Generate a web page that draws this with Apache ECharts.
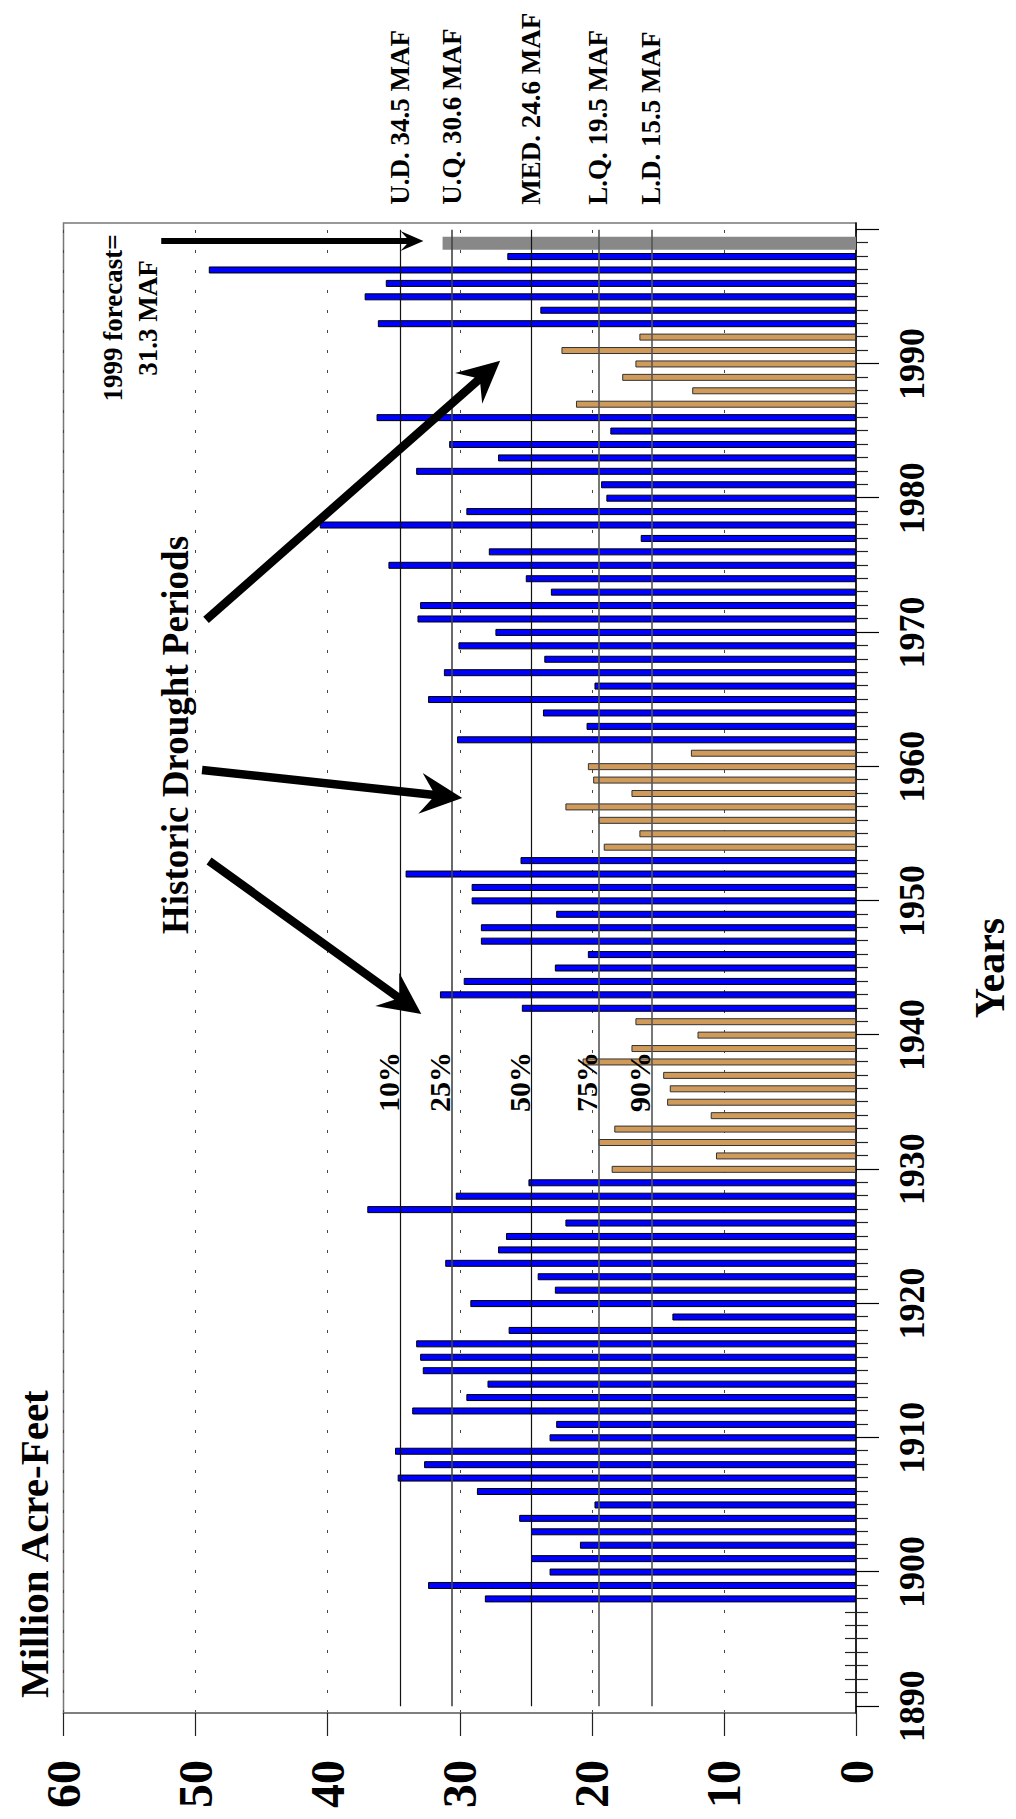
<!DOCTYPE html>
<html>
<head>
<meta charset="utf-8">
<script src="https://cdn.jsdelivr.net/npm/echarts@6/dist/echarts.min.js"></script>
<style>
html, body { margin: 0; padding: 0; background: #fff; width: 1016px; height: 1819px; overflow: hidden; }
#chart { position: absolute; left: 0; top: 0; width: 1819px; height: 1016px;
         transform-origin: 0 0; transform: translateY(1819px) rotate(-90deg); }
</style>
</head>
<body>
<div id="chart"></div>
<script>
// ---------------- data ----------------
const firstYear = 1890, lastYear = 2000;
const years = [];
for (let y = firstYear; y <= lastYear; y++) years.push(String(y));

const firstDataYear = 1898;
const flows = [
  28.1, 32.4,                                                  // 1898-1899
  23.2, 24.6, 20.9, 24.6, 25.5, 19.8, 28.7, 34.7, 32.7, 34.9,  // 1900-1909
  23.2, 22.7, 33.6, 29.5, 27.9, 32.8, 33.0, 33.3, 26.3, 13.9,  // 1910-1919
  29.2, 22.8, 24.1, 31.1, 27.1, 26.5, 22.0, 37.0, 30.3, 24.8,  // 1920-1929
  18.5, 10.6, 19.5, 18.3, 11.0, 14.3, 14.1, 14.6, 20.7, 17.0,  // 1930-1939
  12.0, 16.7, 25.3, 31.5, 29.7, 22.8, 20.3, 28.4, 28.4, 22.7,  // 1940-1949
  29.1, 29.1, 34.1, 25.4, 19.1, 16.4, 19.5, 22.0, 17.0, 19.9,  // 1950-1959
  20.3, 12.5, 30.2, 20.4, 23.7, 32.4, 19.8, 31.2, 23.6, 30.1,  // 1960-1969
  27.3, 33.2, 33.0, 23.1, 25.0, 35.4, 27.8, 16.3, 40.6, 29.5,  // 1970-1979
  18.9, 19.3, 33.3, 27.1, 30.8, 18.6, 36.3, 21.2, 12.4, 17.7,  // 1980-1989
  16.7, 22.3, 16.4, 36.2, 23.9, 37.2, 35.6, 49.0, 26.4         // 1990-1998
];
const droughtPeriods = [[1930, 1941], [1954, 1961], [1987, 1992]];
const forecastYear = 1999;
const forecastValue = 31.3;

const lineValues = [34.5, 30.6, 24.6, 19.5, 15.5];
const lineLabels = ['U.D. 34.5 MAF', 'U.Q. 30.6 MAF', 'MED. 24.6 MAF', 'L.Q. 19.5 MAF', 'L.D. 15.5 MAF'];
const pctLabels = ['10%', '25%', '50%', '75%', '90%'];
const pctLabelYear = 1936.5;

// annotation arrows: [startYear, startValue, tipYear, tipValue]
const droughtArrows = [
  [1970.93, 49.21, 1990.24, 26.94],
  [1959.75, 49.51, 1957.67, 29.81],
  [1952.97, 48.98, 1941.57, 32.91]
];
const forecastArrow = [[1999.16, 52.6, 1999.16, 32.75]];
const droughtTitle = { text: 'Historic Drought Periods', year: 1962.36, value: 51.55 };
const forecastNote = { text: '1999 forecast=\n31.3 MAF', year: 1993.43, value: 54.94 };

// ---------------- build ----------------
const serif = '"Liberation Serif", "Times New Roman", serif';
const isDrought = yr => droughtPeriods.some(p => yr >= p[0] && yr <= p[1]);
const flowOf = yr => {
  const i = yr - firstDataYear;
  return (i >= 0 && i < flows.length) ? flows[i] : null;
};
const normalData = years.map(y => { const v = flowOf(+y); return (v === null || isDrought(+y)) ? '-' : v; });
const droughtData = years.map(y => { const v = flowOf(+y); return (v === null || !isDrought(+y)) ? '-' : v; });
const forecastData = years.map(y => (+y === forecastYear ? forecastValue : '-'));

const lineColors = ['#111', '#444', '#111', '#555', '#555'];
const lineWidths = [1.2, 1.6, 1.2, 1.6, 1.6];

function arrowRenderer(headLen, headHalf, shaftW) {
  return function (params, api) {
    const s = api.coord([api.value(0), api.value(1)]);
    const t = api.coord([api.value(2), api.value(3)]);
    const dx = t[0] - s[0], dy = t[1] - s[1];
    const len = Math.hypot(dx, dy);
    const ux = dx / len, uy = dy / len, nx = -uy, ny = ux;
    const nk = [t[0] - ux * headLen * 0.72, t[1] - uy * headLen * 0.72];
    const base = [t[0] - ux * headLen, t[1] - uy * headLen];
    const h = shaftW / 2;
    const pts = [
      [s[0] + nx * h, s[1] + ny * h],
      [nk[0] + nx * h, nk[1] + ny * h],
      [base[0] + nx * headHalf, base[1] + ny * headHalf],
      [t[0], t[1]],
      [base[0] - nx * headHalf, base[1] - ny * headHalf],
      [nk[0] - nx * h, nk[1] - ny * h],
      [s[0] - nx * h, s[1] - ny * h]
    ];
    return { type: 'polygon', shape: { points: pts }, style: { fill: '#000' } };
  };
}

const isDecade = (i, v) => Number(v) % 10 === 0;
const boldText = (size) => ({ fontFamily: serif, fontWeight: 'bold', fontSize: size, color: '#000' });

const chart = echarts.init(document.getElementById('chart'), null, { renderer: 'svg', width: 1819, height: 1016 });

const option = {
  animation: false,
  backgroundColor: '#fff',
  textStyle: { fontFamily: serif },
  title: {
    text: 'Million Acre-Feet', left: 116, top: 8,
    textStyle: boldText(41)
  },
  grid: { left: 106, right: 223, top: 63.5, bottom: 158, show: true, borderColor: '#777', borderWidth: 1.5 },
  xAxis: [
    {
      type: 'category', data: years, position: 'bottom', boundaryGap: true,
      axisLine: { show: true, lineStyle: { color: '#000', width: 1.5 } },
      axisTick: { show: true, alignWithLabel: true, length: 12, interval: (i, v) => !isDecade(i, v), lineStyle: { color: '#222', width: 1.2 } },
      axisLabel: { show: true, interval: (i, v) => Number(v) % 10 === 0 && Number(v) < 2000, margin: 38, ...boldText(36) },
      splitLine: { show: false },
      name: 'Years', nameLocation: 'middle', nameGap: 113, nameTextStyle: boldText(42)
    },
    {
      type: 'category', data: years, position: 'bottom', boundaryGap: true,
      axisLine: { show: false },
      axisTick: { show: true, alignWithLabel: true, inside: true, length: 11, interval: (i, v) => !isDecade(i, v), lineStyle: { color: '#222', width: 1.2 } },
      axisLabel: { show: false }, splitLine: { show: false }
    },
    {
      type: 'category', data: years, position: 'bottom', boundaryGap: true,
      axisLine: { show: false },
      axisTick: { show: true, alignWithLabel: true, length: 23, interval: isDecade, lineStyle: { color: '#000', width: 1.2 } },
      axisLabel: { show: false }, splitLine: { show: false }
    },
    { type: 'value', min: firstYear - 0.5, max: lastYear + 0.5, show: false }
  ],
  yAxis: {
    type: 'value', min: 0, max: 60, interval: 10, position: 'left',
    axisLine: { show: true, lineStyle: { color: '#777', width: 1.5 } },
    axisTick: { show: true, length: 23, lineStyle: { color: '#222', width: 1.2 } },
    axisLabel: { margin: 47, ...boldText(48) },
    splitLine: { show: true, lineStyle: { type: [3, 17], color: '#444', width: 1 } }
  },
  series: [
    {
      name: 'Annual flow', type: 'bar', xAxisIndex: 0, yAxisIndex: 0,
      data: normalData, barWidth: 7, barGap: '-100%',
      itemStyle: { color: '#0000FF', borderColor: '#000', borderWidth: 1 },
      markLine: {
        silent: true, symbol: 'none', z: 5, animation: false,
        label: { show: true, position: 'end', distance: 25, ...boldText(27) },
        data: lineValues.map((v, k) => [
          { coord: [String(firstYear), v], lineStyle: { color: lineColors[k], width: lineWidths[k], type: 'solid' },
            label: { show: true, position: 'end', distance: 25, formatter: lineLabels[k], ...boldText(27) } },
          { coord: [String(lastYear), v],
            label: { show: true, position: 'end', distance: 25, formatter: lineLabels[k], ...boldText(27) } }
        ])
      }
    },
    {
      name: 'Drought years', type: 'bar', xAxisIndex: 0, yAxisIndex: 0,
      data: droughtData, barWidth: 7, barGap: '-100%',
      itemStyle: { color: '#CF9A5A', borderColor: '#333', borderWidth: 1 }
    },
    {
      name: '1999 forecast', type: 'bar', xAxisIndex: 1, yAxisIndex: 0,
      data: forecastData, barWidth: 13,
      itemStyle: { color: '#888', borderColor: '#888', borderWidth: 0 }
    },
    {
      name: 'Drought arrows', type: 'custom', xAxisIndex: 3, yAxisIndex: 0, z: 10, silent: true, clip: false,
      data: droughtArrows, encode: { x: [0, 2], y: [1, 3] },
      renderItem: arrowRenderer(42, 20.5, 8.5),
      markPoint: {
        silent: true, symbol: 'circle', symbolSize: 1, itemStyle: { color: 'rgba(0,0,0,0)' },
        label: { show: true, position: 'inside', align: 'center', verticalAlign: 'middle', ...boldText(30) },
        data: [
          ...lineValues.map((v, k) => ({ coord: [pctLabelYear, v], label: { formatter: pctLabels[k], offset: [0, -12] } })),
          { coord: [droughtTitle.year, droughtTitle.value], label: { formatter: droughtTitle.text, fontSize: 37 } },
          { coord: [forecastNote.year, forecastNote.value], label: { formatter: forecastNote.text, fontSize: 27, lineHeight: 35 } }
        ]
      }
    },
    {
      name: 'Forecast arrow', type: 'custom', xAxisIndex: 3, yAxisIndex: 0, z: 10, silent: true, clip: false,
      data: forecastArrow, encode: { x: [0, 2], y: [1, 3] },
      renderItem: arrowRenderer(23, 10, 6)
    }
  ]
};
chart.setOption(option);
</script>
</body>
</html>
